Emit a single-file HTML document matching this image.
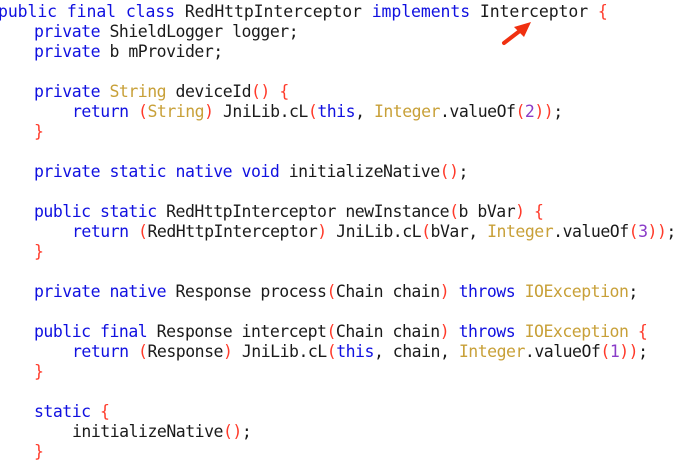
<!DOCTYPE html>
<html><head><meta charset="utf-8"><style>
html,body{margin:0;padding:0;background:#fff;width:696px;height:475px;overflow:hidden;position:relative}
.l{position:absolute;white-space:pre;font-family:"DejaVu Sans Mono","Liberation Mono",monospace;font-size:16.5px;line-height:20px;color:#1a1a1a;letter-spacing:-0.5px}
.k{color:#1010e0}.t{color:#c8a038}.p{color:#ff3a2a}.n{color:#8a3cc8}
</style></head><body>
<div class="l" style="left:-2px;top:2px;letter-spacing:-0.1px"><span class="k">public final class</span> RedHttpInterceptor <span class="k">implements</span> Interceptor <span class="p">{</span></div>
<div class="l" style="left:34px;top:22px"><span class="k">private</span> ShieldLogger logger;</div>
<div class="l" style="left:34px;top:42px"><span class="k">private</span> b mProvider;</div>
<div class="l" style="left:34px;top:82px"><span class="k">private</span> <span class="t">String</span> deviceId<span class="p">()</span> <span class="p">{</span></div>
<div class="l" style="left:72px;top:102px"><span class="k">return</span> <span class="p">(</span><span class="t">String</span><span class="p">)</span> JniLib.cL<span class="p">(</span><span class="k">this</span>, <span class="t">Integer</span>.valueOf<span class="p">(</span><span class="n">2</span><span class="p">))</span>;</div>
<div class="l" style="left:34px;top:122px"><span class="p">}</span></div>
<div class="l" style="left:34px;top:162px"><span class="k">private static native void</span> initializeNative<span class="p">()</span>;</div>
<div class="l" style="left:34px;top:202px"><span class="k">public static</span> RedHttpInterceptor newInstance<span class="p">(</span>b bVar<span class="p">)</span> <span class="p">{</span></div>
<div class="l" style="left:72px;top:222px"><span class="k">return</span> <span class="p">(</span>RedHttpInterceptor<span class="p">)</span> JniLib.cL<span class="p">(</span>bVar, <span class="t">Integer</span>.valueOf<span class="p">(</span><span class="n">3</span><span class="p">))</span>;</div>
<div class="l" style="left:34px;top:242px"><span class="p">}</span></div>
<div class="l" style="left:34px;top:282px"><span class="k">private native</span> Response process<span class="p">(</span>Chain chain<span class="p">)</span> <span class="k">throws</span> <span class="t">IOException</span>;</div>
<div class="l" style="left:34px;top:322px"><span class="k">public final</span> Response intercept<span class="p">(</span>Chain chain<span class="p">)</span> <span class="k">throws</span> <span class="t">IOException</span> <span class="p">{</span></div>
<div class="l" style="left:72px;top:342px"><span class="k">return</span> <span class="p">(</span>Response<span class="p">)</span> JniLib.cL<span class="p">(</span><span class="k">this</span>, chain, <span class="t">Integer</span>.valueOf<span class="p">(</span><span class="n">1</span><span class="p">))</span>;</div>
<div class="l" style="left:34px;top:362px"><span class="p">}</span></div>
<div class="l" style="left:34px;top:402px"><span class="k">static</span> <span class="p">{</span></div>
<div class="l" style="left:72px;top:422px">initializeNative<span class="p">()</span>;</div>
<div class="l" style="left:34px;top:442px"><span class="p">}</span></div>
<svg width="696" height="475" style="position:absolute;left:0;top:0">
<line x1="504" y1="43" x2="521" y2="30" stroke="#f03010" stroke-width="4" stroke-linecap="round"/>
<polygon points="531,22 514,27 524,37" fill="#f03010"/>
</svg>
</body></html>
